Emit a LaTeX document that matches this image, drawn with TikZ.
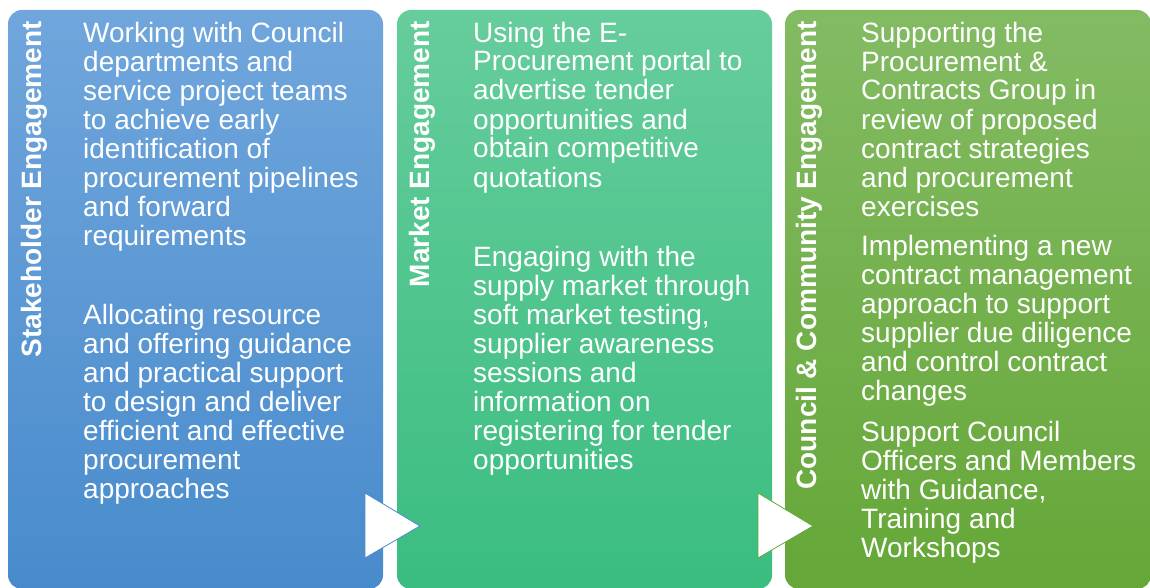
\documentclass[tikz,border=0pt]{standalone}
\usepackage{fontspec}
\setmainfont{Liberation Sans}
\usetikzlibrary{positioning,calc}

\definecolor{stktop}{RGB}{112,166,220}
\definecolor{stkbot}{RGB}{72,139,204}
\definecolor{mkttop}{RGB}{102,205,156}
\definecolor{mktbot}{RGB}{58,189,128}
\definecolor{cctop}{RGB}{131,187,99}
\definecolor{ccbot}{RGB}{101,167,56}

\tikzset{
  panel/.style={rounded corners=14pt},
  heading/.style={rotate=90, anchor=base east, font=\fontsize{28}{29}\selectfont\bfseries},
  % the base anchor of a multi-line node sits on its last line
  body/.style={anchor=base west, align=left, font=\fontsize{28}{29}\selectfont},
  chevron/.style={fill=white, line width=0.8pt}
}

\begin{document}
\begin{tikzpicture}[x=1pt, y=-1pt]
	\useasboundingbox (0,0) rectangle (1150,588);

	% panels
	\path[panel, top color=stktop, bottom color=stkbot] (8,10) rectangle (383,589);
	\path[panel, top color=mkttop, bottom color=mktbot] (397,10) rectangle (772,589);
	\path[panel, top color=cctop, bottom color=ccbot] (785,10) rectangle (1151,589);

	\begin{scope}
		\tikzstyle{every node}=[inner sep=0pt, text=white]

		\node[heading] (stk) at (41,21)  {Stakeholder Engagement};
		\node[heading] (mkt) at (429,21) {Market Engagement};
		\node[heading] (cc)  at (816,21) {Council \& Community Engagement};

		\node[body] (stka) at (83,245) {Working with Council\\departments and\\service project teams\\to achieve early\\identification of\\procurement pipelines\\and forward\\requirements};
		\node[body] (stkb) at (83,498) {Allocating resource\\and offering guidance\\and practical support\\to design and deliver\\efficient and effective\\procurement\\approaches};

		\node[body] (mkta) at (473,187) {Using the E-\\Procurement portal to\\advertise tender\\opportunities and\\obtain competitive\\quotations};
		\node[body] (mktb) at (473,469) {Engaging with the\\supply market through\\soft market testing,\\supplier awareness\\sessions and\\information on\\registering for tender\\opportunities};

		\node[body] (cca) at (861,216) {Supporting the\\Procurement \&\\Contracts Group in\\review of proposed\\contract strategies\\and procurement\\exercises};
		\node[body] (ccb) at (861,400) {Implementing a new\\contract management\\approach to support\\supplier due diligence\\and control contract\\changes};
		\node[body] (ccc) at (861,557) {Support Council\\Officers and Members\\with Guidance,\\Training and\\Workshops};
	\end{scope}

	% arrows between panels
	\draw[chevron, draw=stkbot] (365,493) -- (420,526) -- (365,558) -- cycle;
	\draw[chevron, draw=ccbot]  (758,493) -- (813,526) -- (758,558) -- cycle;
\end{tikzpicture}
\end{document}
